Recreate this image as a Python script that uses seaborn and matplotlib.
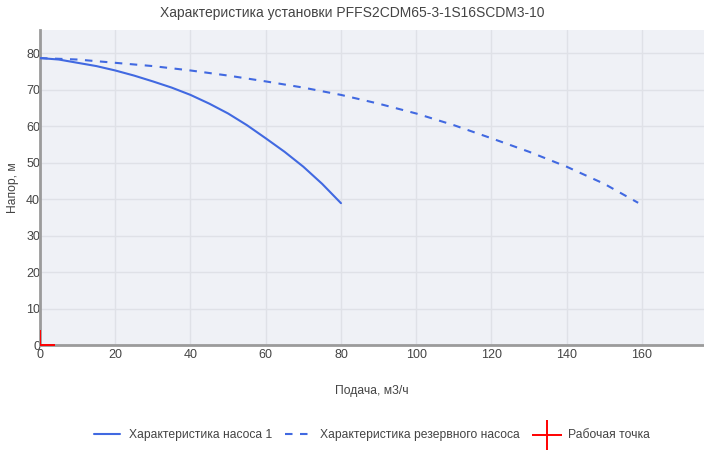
import matplotlib
matplotlib.use("Agg")
import matplotlib.pyplot as plt
import seaborn as sns
import pandas as pd

# Данные кривых
flow_pump = [0, 5, 10, 15, 20, 25, 30, 35, 40, 45, 50, 55, 60, 65, 70, 75, 80]
head_pump = [78.7, 78.3, 77.4, 76.5, 75.3, 73.9, 72.3, 70.6, 68.6, 66.2, 63.5, 60.3, 56.7, 53.0, 48.9, 44.2, 38.9]

flow_reserve = [0, 10, 20, 30, 40, 50, 60, 70, 80, 90, 100, 110, 120, 130, 140, 150, 159]
head_reserve = [78.7, 78.3, 77.4, 76.5, 75.3, 73.9, 72.3, 70.6, 68.6, 66.2, 63.5, 60.3, 56.7, 53.0, 48.9, 44.2, 39.0]

work_flow = [0]
work_head = [0]

x_ticks = [0, 20, 40, 60, 80, 100, 120, 140, 160]
y_ticks = [0, 10, 20, 30, 40, 50, 60, 70, 80]

title = "Характеристика установки PFFS2CDM65-3-1S16SCDM3-10"
labels = ["Характеристика насоса 1", "Характеристика резервного насоса", "Рабочая точка"]

BLUE = "#4169e1"
BG = "#eff1f6"
GRID = "#dfe1e7"
AXIS = "#9b9b9b"
TXT = "#444444"

sns.set_theme(style="white")
plt.rcParams["font.family"] = ["Liberation Sans", "DejaVu Sans"]

fig = plt.figure(figsize=(7.04, 4.5), dpi=100)
ax = fig.add_axes([40 / 704, 105 / 450, 664 / 704, 315 / 450])
ax.set_facecolor(BG)

df1 = pd.DataFrame({"q": flow_pump, "h": head_pump})
df2 = pd.DataFrame({"q": flow_reserve, "h": head_reserve})
df3 = pd.DataFrame({"q": work_flow, "h": work_head})

sns.lineplot(data=df1, x="q", y="h", ax=ax, color=BLUE, lw=1.5,
             label=labels[0], sort=False, zorder=3)
sns.lineplot(data=df2, x="q", y="h", ax=ax, color=BLUE, lw=1.5,
             dashes=False, label=labels[1], sort=False, zorder=3)
ax.lines[-1].set_dashes((3.6, 3.6))
sns.scatterplot(data=df3, x="q", y="h", ax=ax, marker="+", s=480,
                color="red", linewidth=1.4, label=labels[2], zorder=4)

ax.set_xlim(0, 176.5)
ax.set_ylim(0, 86.4)
ax.set_xticks(x_ticks)
ax.set_yticks(y_ticks)
ax.grid(True, color=GRID, lw=1)
ax.set_axisbelow(True)

for side in ["top", "right"]:
    ax.spines[side].set_visible(False)
for side in ["left", "bottom"]:
    ax.spines[side].set_color(AXIS)
    ax.spines[side].set_linewidth(2)

ax.tick_params(axis="both", length=0, labelsize=9, labelcolor=TXT)
ax.tick_params(axis="x", pad=3)
ax.tick_params(axis="y", pad=0)
ax.set_xlabel("Подача, м3/ч", fontsize=8.7, color=TXT, labelpad=17)
ax.set_ylabel("Напор, м", fontsize=8.7, color=TXT, labelpad=5)
fig.suptitle(title, fontsize=10, color=TXT, y=0.987)

ax.legend(loc="center", bbox_to_anchor=(0.5, -0.285), ncol=3, frameon=False,
          fontsize=8.7, handlelength=2.2, columnspacing=1.1, handletextpad=0.7,
          labelcolor=TXT)

fig.savefig("out.png", dpi=100)
